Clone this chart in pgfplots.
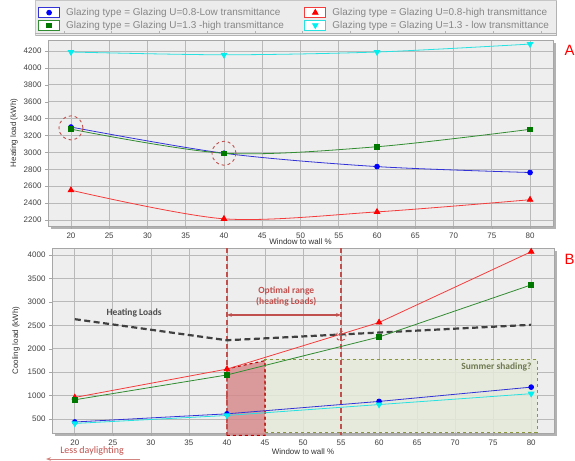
\documentclass[border=0pt]{standalone}
\usepackage{pgfplots}
\pgfplotsset{compat=1.18}
\usepackage{fontspec}
\setmainfont{Liberation Sans}
\newfontfamily\calib{Carlito}
\usetikzlibrary{shadows,arrows.meta}
\definecolor{bgc}{RGB}{238,238,238}
\definecolor{bluel}{RGB}{50,50,215}
\definecolor{bluem}{RGB}{0,0,255}
\definecolor{redl}{RGB}{245,60,60}
\definecolor{redm}{RGB}{255,0,0}
\definecolor{greenl}{RGB}{50,140,50}
\definecolor{greenm}{RGB}{0,120,0}
\definecolor{cyanl}{RGB}{40,225,225}
\definecolor{cyanm}{RGB}{0,240,240}
\definecolor{annred}{RGB}{192,80,77}
\definecolor{olive}{RGB}{140,150,60}
\definecolor{olivetext}{RGB}{110,120,80}
\definecolor{greenfill}{RGB}{228,234,218}
\definecolor{redfill}{RGB}{214,134,136}

\pgfplotsset{
  base/.style={
    scale only axis,
    xmin=17, xmax=83,
    xtick={20,25,...,80},
    grid=major,
    grid style={gray!55, line width=0.7bp},
    axis line style={gray!70},
    tick style={gray!70},
    tick align=outside,
    major tick length=3bp,
    xtick pos=left, ytick pos=left,
    ticklabel style={font=\fontsize{8}{9}\selectfont, text=black!75},
    /pgf/number format/assume math mode=true,
    /pgf/number format/1000 sep={},
    label style={font=\fontsize{8}{9}\selectfont, text=black!80},
    axis background/.style={fill=bgc, drop shadow={shadow xshift=2.5bp, shadow yshift=-2.5bp, fill=gray!60, opacity=1}},
    xlabel={Window to wall \%},
  },
  sblue/.style={color=bluel, line width=0.8bp, mark=*, mark size=2.4bp, mark options={fill=bluem, draw=bluem, solid}},
  sred/.style={color=redl, line width=0.8bp, mark=triangle*, mark size=3.2bp, mark options={fill=redm, draw=redm, solid}},
  sgreen/.style={color=greenl, line width=0.8bp, mark=square*, mark size=2.3bp, mark options={fill=greenm, draw=greenm, solid}},
  scyan/.style={color=cyanl, line width=0.8bp, mark=triangle*, mark size=3.2bp, mark options={fill=cyanm, draw=cyanm, solid, rotate=180}},
}

\begin{document}
\begin{tikzpicture}
\useasboundingbox (0,0) rectangle (575bp,-461bp);

% legend frame (drawn behind the pgfplots legend)
\fill[gray!15] (35bp,0bp) rectangle (556bp,-35bp);
\draw[gray!45, line width=0.8bp] (35bp,-0.5bp) rectangle (556bp,-35bp);
\draw[gray!60, line width=1bp] (556.5bp,-1bp) -- (556.5bp,-35.5bp) -- (36bp,-35.5bp);
\draw[gray!60, line width=0.6bp] (35bp,-33bp) -- (556bp,-33bp);
\foreach \k in {0,...,10} {\draw[gray!60, line width=0.6bp] ({(64+47.7*\k)*1bp},-33bp) -- ({(64+47.7*\k)*1bp},-30.5bp);}

% ---------------- Top panel (A) ----------------
\begin{axis}[base,
  at={(48bp,-226bp)}, anchor=south west,
  width=505bp, height=186bp,
  ymin=2129, ymax=4330,
  ytick={2200,2400,...,4200},
  xlabel style={at={(axis description cs:0.5,0)}, anchor=center, yshift=-16bp},
  ylabel={Heating load (kWh)},
  ylabel style={at={(axis description cs:-0.0673,0.5)}, anchor=center},
  legend columns=2,
  legend cell align=left,
  legend style={at={(axis description cs:-0.0198,1.178)}, anchor=north west,
    draw=none, fill=none, font=\fontsize{10}{11}\selectfont, text=gray!95,
    row sep=1.5bp, inner sep=0bp, nodes={inner sep=1.2bp},
    /tikz/every odd column/.append style={column sep=5bp}},
  legend image code/.code={
    \draw[#1, mark=none, solid, line width=0.8bp, fill=white] (0bp,-5bp) rectangle (21bp,5bp);
    \draw[#1, only marks] plot coordinates {(10.5bp,0bp)};
  },
]
\addplot[sblue, smooth] coordinates {(20,3300) (40,2990) (60,2832) (80,2762)};
\addlegendentry{\makebox[237bp][l]{Glazing type = Glazing U=0.8-Low transmittance}}
\addplot[sred, smooth] coordinates {(20,2553) (40,2214) (60,2296) (80,2440)};
\addlegendentry{Glazing type = Glazing U=0.8-high transmittance}
\addplot[sgreen, smooth] coordinates {(20,3275) (40,2990) (60,3067) (80,3273)};
\addlegendentry{\makebox[237bp][l]{Glazing type = Glazing U=1.3 -high transmittance}}
\addplot[scyan, smooth] coordinates {(20,4188) (40,4155) (60,4188) (80,4282)};
\addlegendentry{Glazing type = Glazing U=1.3 - low transmittance}
\addplot[forget plot, only marks, mark=o, mark size=12bp, mark options={draw=annred, dashed, line width=0.9bp}] coordinates {(20,3290) (40,2990)};
\end{axis}
\node[text=red, font=\fontsize{15}{15}\selectfont, anchor=west] at (561bp,-50bp) {A};

% ---------------- Bottom panel (B) ----------------
\begin{axis}[base,
  at={(52bp,-433bp)}, anchor=south west,
  width=502bp, height=185bp,
  ymin=201, ymax=4149,
  ytick={500,1000,...,4000},
  clip=false,
  xlabel style={at={(axis description cs:0.5,0)}, anchor=center, yshift=-19bp},
  ylabel={Cooling load (kWh)},
  ylabel style={at={(axis description cs:-0.0717,0.5)}, anchor=center},
]
% shaded regions
\addplot[fill=greenfill, fill opacity=0.85, draw=olive, dashed, line width=1.1bp] coordinates {(45,215) (45,1775) (80.8,1775) (80.8,215)} -- cycle;
\addplot[fill=redfill, fill opacity=0.8, draw=red!75!black, dashed, line width=1.1bp] coordinates {(40,150) (40,1570) (45,1745) (45,150)} -- cycle;
% optimal range markers
\addplot[annred, dashed, line width=1.3bp, dash pattern=on 5bp off 3bp] coordinates {(40,4149) (40,150)};
\addplot[annred, dashed, line width=1.3bp, dash pattern=on 5bp off 3bp] coordinates {(55,4149) (55,150)};
\addplot[annred, line width=1.2bp, {Stealth[length=5bp]}-{Stealth[length=5bp]}] coordinates {(40,2720) (55,2720)};
% heating loads reference
\addplot[black!75, line width=2.2bp, dash pattern=on 6bp off 3.5bp] coordinates {(20,2630) (40,2180) (80,2510)};
% series
\addplot[sblue] coordinates {(20,436) (40,610) (60,875) (80,1180)};
\addplot[sred] coordinates {(20,960) (40,1565) (60,2560) (80,4070)};
\addplot[sgreen] coordinates {(20,910) (40,1440) (60,2250) (80,3362)};
\addplot[scyan] coordinates {(20,405) (40,575) (60,808) (80,1040)};
\addplot[only marks, mark=o, mark size=5bp, mark options={draw=annred, dashed, line width=0.9bp}] coordinates {(55,2275)};
% texts
\node[font=\calib\bfseries\fontsize{9.5}{11}\selectfont, text=black!70] at (axis cs:27.8,2762) {Heating Loads};
\node[font=\calib\bfseries\fontsize{9.5}{11}\selectfont, text=annred, align=center] at (axis cs:47.8,3115) {Optimal range\\(heating Loads)};
\node[font=\calib\bfseries\fontsize{9.5}{11}\selectfont, text=olivetext, anchor=east] at (axis cs:80.5,1610) {Summer shading?};
\end{axis}
\node[text=red, font=\fontsize{15}{15}\selectfont, anchor=west] at (561bp,-259bp) {B};
\node[font=\calib\fontsize{10}{11}\selectfont, text=annred] at (92bp,-451bp) {Less daylighting};
\draw[annred!70, line width=0.8bp, -{Stealth[length=5bp]}] (140bp,-459bp) -- (46bp,-459bp);
\end{tikzpicture}
\end{document}
